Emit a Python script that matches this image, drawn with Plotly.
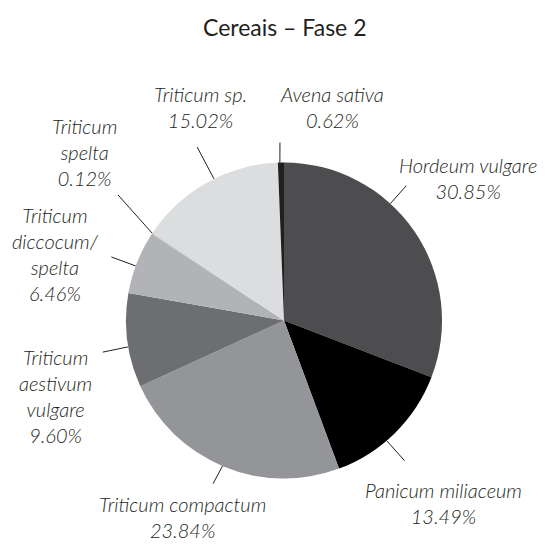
import math
import plotly.graph_objects as go

# ---- data ----
labels = ["Hordeum vulgare", "Panicum miliaceum", "Triticum compactum",
          "Triticum aestivum vulgare", "Triticum diccocum/spelta",
          "Triticum spelta", "Triticum sp.", "Avena sativa"]
label_text = ["Hordeum vulgare", "Panicum miliaceum", "Triticum compactum",
              "Triticum<br>aestivum<br>vulgare", "Triticum<br>diccocum/<br>spelta",
              "Triticum<br>spelta", "Triticum sp.", "Avena sativa"]
values = [30.85, 13.49, 23.84, 9.60, 6.46, 0.12, 15.02, 0.62]
title_text = "Cereais – Fase 2"

# ---- styles / layout ----
colors = ["#4d4d4f", "#000000", "#939598", "#6d6e71", "#b1b3b6",
          "#c8c9cb", "#dcddde", "#231f20"]
W, H = 545, 544
CX, CY, R = 284, 320.5, 158
# label centres in px (x, y)
label_pos = [(468, 178), (443, 503), (182, 517), (55, 396), (55, 254),
             (84, 152), (200, 107), (332, 107)]
# leader lines: (start angle on rim, end angle, end radius) degrees clockwise from top
leaders = [(42.3, 42.2, 182), (139.5, 139.3, 185), (202.9, 203.5, 178),
           (260.4, 260.1, 184), (290.2, 290.2, 184), (303.5, 307.1, 208),
           (333.7, 333.4, 194), (358.5, 358.7, 178)]


def px(x, y):
    return x / W, (H - y) / H


def polar(a, r):
    t = math.radians(a)
    return CX + r * math.sin(t), CY - r * math.cos(t)


fig = go.Figure(go.Pie(
    labels=labels, values=values, sort=False, direction="clockwise",
    rotation=0, textinfo="none", hoverinfo="label+percent",
    marker=dict(colors=colors, line=dict(width=0)),
    domain=dict(x=[(CX - R) / W, (CX + R) / W],
                y=[(H - CY - R) / H, (H - CY + R) / H]),
    showlegend=False,
))

total = sum(values)
shapes = []
for a0, a1, r1 in leaders:
    x0, y0 = px(*polar(a0, R))
    x1, y1 = px(*polar(a1, r1))
    shapes.append(dict(type="line", xref="paper", yref="paper",
                       x0=x0, y0=y0, x1=x1, y1=y1,
                       line=dict(color="#231f20", width=1)))

annotations = []
for txt, v, (lx, ly) in zip(label_text, values, label_pos):
    x, y = px(lx, ly)
    annotations.append(dict(
        text=f"{txt}<br>{v / total * 100:.2f}%", x=x, y=y,
        xref="paper", yref="paper", showarrow=False,
        xanchor="center", yanchor="middle", align="center",
        font=dict(family="Lato", size=20, color="#231f20",
                  style="italic", weight=300)))

tx, ty = px(284, 27)
annotations.append(dict(text=title_text, x=tx, y=ty, xref="paper", yref="paper",
                        showarrow=False, xanchor="center", yanchor="middle",
                        font=dict(family="Lato", size=23, color="#231f20", weight=400)))

fig.update_layout(width=W, height=H, autosize=False,
                  margin=dict(l=0, r=0, t=0, b=0),
                  paper_bgcolor="white", plot_bgcolor="white",
                  shapes=shapes, annotations=annotations)
fig.write_html("out.html", config={"displayModeBar": False},
               post_script="document.body.style.margin='0';document.body.style.overflow='hidden';")
